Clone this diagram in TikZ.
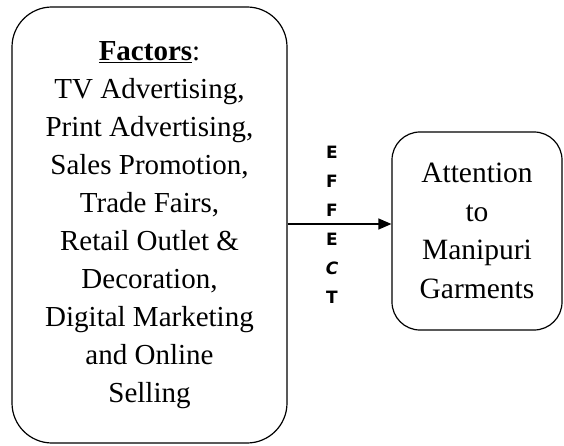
\documentclass[tikz,border=0pt]{standalone}
\usepackage{fontspec}
\setmainfont{Liberation Serif}
\newfontfamily\effectfont{DejaVu Sans}
\usetikzlibrary{arrows.meta}

\tikzset{
    roundbox/.style={draw, line width=1.2pt, align=center, inner sep=0pt},
}

\begin{document}
\begin{tikzpicture}[x=1pt, y=1pt]

    \useasboundingbox (0,0) rectangle (564,445);

    % Box with the list of factors
    \node[roundbox, rounded corners=40pt, minimum width=275pt, minimum height=436pt,
          font=\fontsize{29}{38}\selectfont] (factors) at (149.5,220)
        {\underline{\textbf{Factors}}:\\
         TV Advertising,\\
         Print Advertising,\\
         Sales Promotion,\\
         Trade Fairs,\\
         Retail Outlet \&\\
         Decoration,\\
         Digital Marketing\\
         and Online\\
         Selling};

    % Box on the right, the outcome
    \node[roundbox, rounded corners=28pt, minimum width=170pt, minimum height=198pt,
          font=\fontsize{29.5}{38.7}\selectfont] (attn) at (477,214)
        {Attention\\ to\\ Manipuri\\ Garments};

    % Arrow between the two boxes
    \coordinate (arrowy) at (0,221);
    \draw[line width=1.2pt, -{Triangle[length=13pt, width=11pt]}]
        (factors.east |- arrowy) -- (attn.west |- arrowy);

    % Letters stacked above and below the arrow
    \node[align=center, font=\effectfont\bfseries\fontsize{17}{29}\selectfont] (effect) at (332,220.5)
        {E\\ F\\ F\\ E\\ \textit{C}\\ T};

\end{tikzpicture}
\end{document}
